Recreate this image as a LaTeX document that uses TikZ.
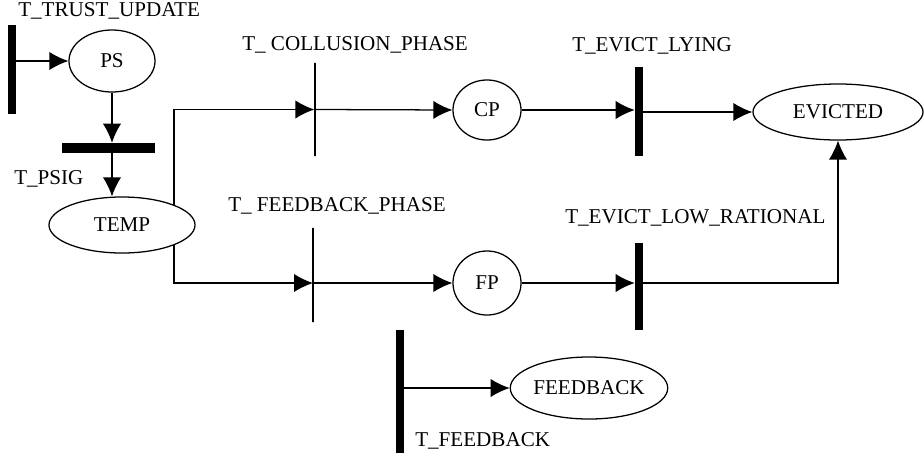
\documentclass[tikz,border=0pt]{standalone}
\usepackage{fontspec}
\setmainfont{Liberation Serif}
\usetikzlibrary{shapes.geometric,arrows.meta}
\tikzset{
  place/.style={draw, ellipse, line width=0.9pt, inner sep=0pt},
  tbar/.style={fill=black, inner sep=0pt, minimum width=0.2cm},
  tline/.style={draw, line width=0.9pt, inner sep=0pt, minimum width=0pt},
  flow/.style={draw, line width=0.9pt, -{Latex[length=13.5pt,width=13pt]}},
  lbl/.style={anchor=base west, inner sep=0pt}
}

\begin{document}
\begin{tikzpicture}[x=0.025cm, y=-0.025cm, font=\fontsize{15}{18}\selectfont]
	\useasboundingbox (0,0) rectangle (924,461);
	% places
	\node[place, minimum width=2.15cm, minimum height=1.55cm] (ps) at (112,61) {PS};
	\node[place, minimum width=3.65cm, minimum height=1.4cm] (temp) at (122,225) {TEMP};
	\node[place, minimum width=1.7cm, minimum height=1.5cm] (cp) at (487,110) {CP};
	\node[place, minimum width=1.7cm, minimum height=1.6cm] (fp) at (487,283) {FP};
	\node[place, minimum width=4.25cm, minimum height=1.4cm] (evicted) at (838,112) {EVICTED};
	\node[place, minimum width=3.8cm, minimum height=1.55cm] (feedback) at (589,388) {FEEDBACK};
	% transitions
	\node[tbar, minimum height=2.225cm] (tu) at (12,69.5) {};
	\node[tbar, minimum width=2.33cm, minimum height=0.25cm] (tpsig) at (108.5,148) {};
	\node[tline, minimum height=2.33cm] (tcp) at (315,109.5) {};
	\node[tline, minimum height=2.35cm] (tfp) at (313,275) {};
	\node[tbar, minimum height=2.225cm] (tel) at (639,111.5) {};
	\node[tbar, minimum height=2.175cm] (tlr) at (639,286.5) {};
	\node[tbar, minimum height=3.075cm] (tfb) at (399.5,391.5) {};
	% labels
	\node[lbl] (l_tu) at (18,16) {T\_TRUST\_UPDATE};
	\node[lbl] (l_tpsig) at (14,184) {T\_PSIG};
	\node[lbl] (l_tcp) at (242,50) {T\_ COLLUSION\_PHASE};
	\node[lbl] (l_tel) at (572,51) {T\_EVICT\_LYING};
	\node[lbl] (l_tfp) at (228,211) {T\_ FEEDBACK\_PHASE};
	\node[lbl] (l_tlr) at (565,223) {T\_EVICT\_LOW\_RATIONAL};
	\node[lbl] (l_tfb) at (415,446) {T\_FEEDBACK};
	% arcs
	\draw[flow] (tu.east |- ps.west) -- (ps.west);
	\draw[flow] (ps.south) -- (ps.south |- tpsig.north);
	\draw[flow] (ps.south |- tpsig.south) -- (ps.south |- temp.north);
	\draw[flow] (temp.north east) |- (tcp.west);
	\draw[flow] (tcp.east) -- (cp.west);
	\draw[flow] (cp.east) -- (cp.east -| tel.west);
	\draw[flow] (tel.east |- evicted.west) -- (evicted.west);
	\draw[flow] (temp.south east) |- (tfp.center |- fp.west);
	\draw[flow] (tfp.center |- fp.west) -- (fp.west);
	\draw[flow] (fp.east) -- (fp.east -| tlr.west);
	\draw[flow] (tlr.east |- fp.east) -| (evicted.south);
	\draw[flow] (tfb.east |- feedback.west) -- (feedback.west);
\end{tikzpicture}
\end{document}
